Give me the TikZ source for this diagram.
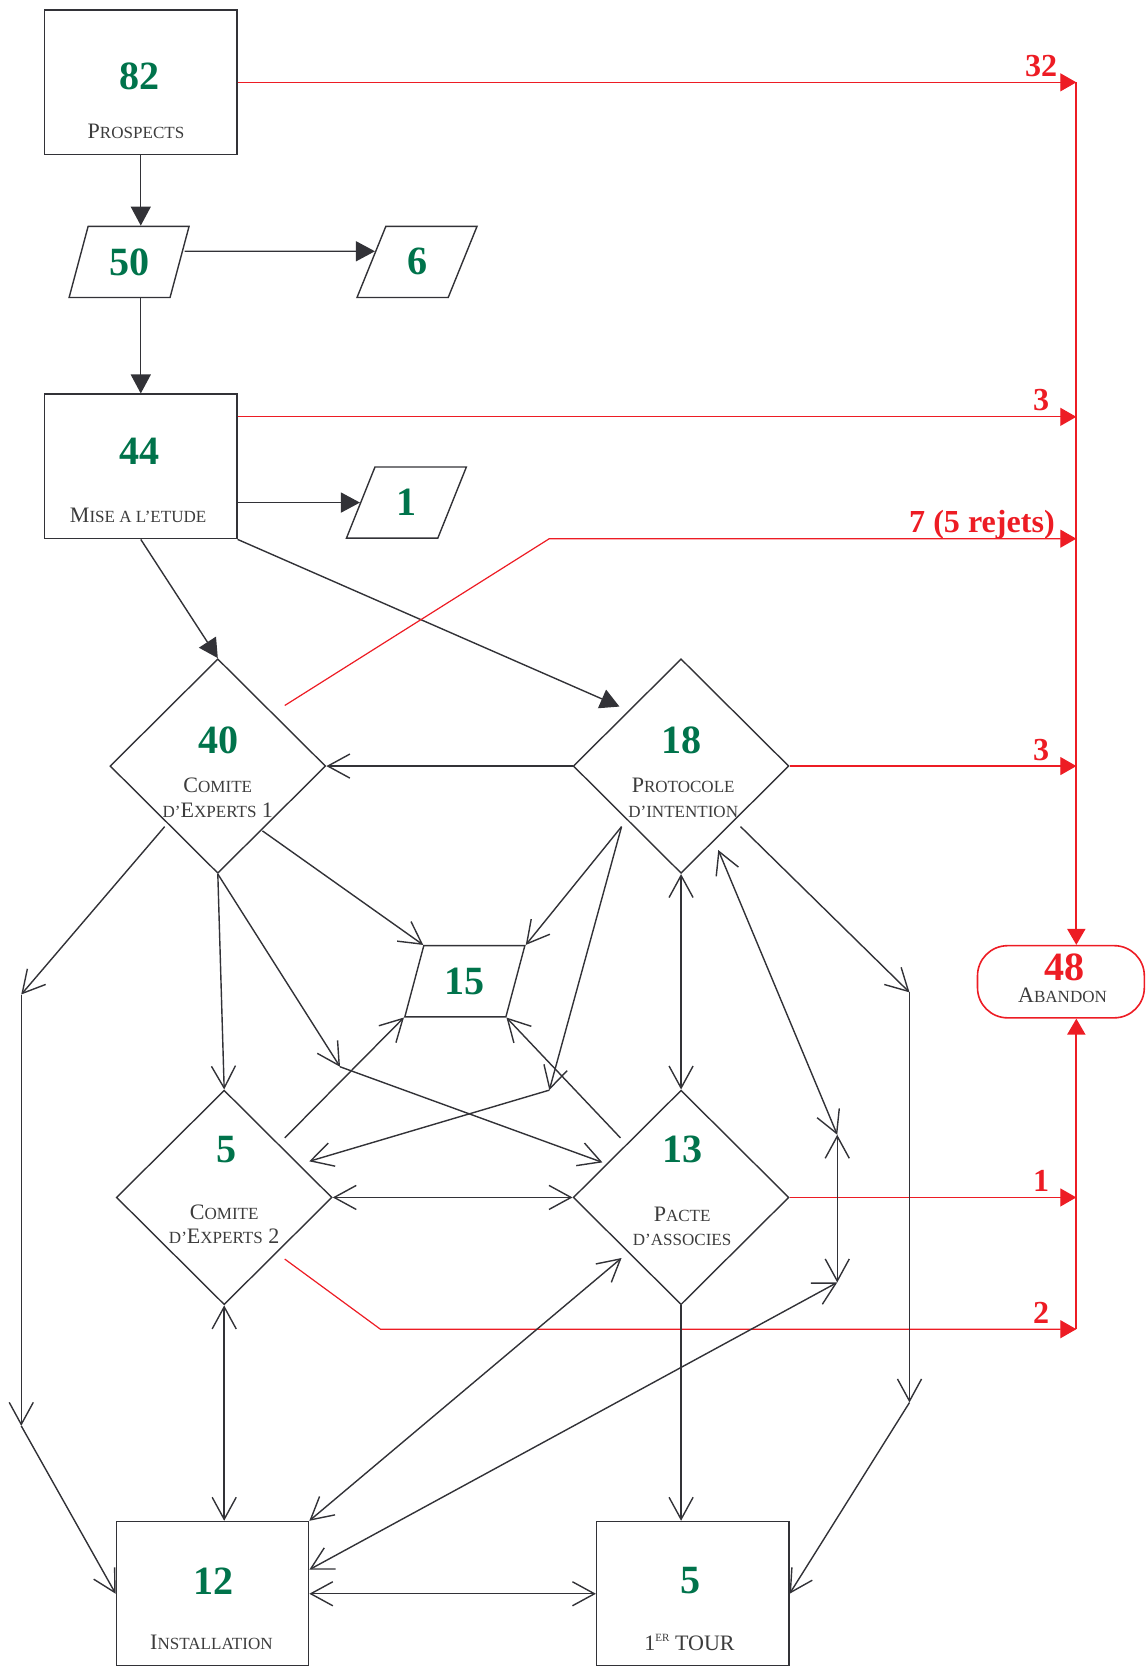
\documentclass[tikz,border=0pt]{standalone}
\usepackage{fontspec}
\setmainfont{Liberation Serif}
\usetikzlibrary{arrows.meta,shapes.geometric,calc}
\definecolor{vert}{RGB}{0,115,75}
\definecolor{rouge}{RGB}{237,28,36}
\definecolor{trait}{RGB}{50,50,55}
\definecolor{texte}{RGB}{60,60,60}
\newcommand\petit[1]{{\fontsize{8.5}{10}\selectfont #1}}
\begin{document}
\begin{tikzpicture}[x=0.53pt,y=-0.53pt,
        boite/.style={draw=trait,line width=0.7pt,minimum width=95.9pt,minimum height=72.1pt,inner sep=0pt},
        losange/.style={draw=trait,line width=0.7pt,diamond,minimum width=107.6pt,minimum height=107pt,inner sep=0pt},
        para/.style={draw=trait,line width=0.7pt,trapezium,trapezium left angle=71,trapezium right angle=109,
            trapezium stretches=true,minimum width=59.9pt,minimum height=35.5pt,inner sep=0pt,
            text=vert,font=\fontsize{20}{20}\selectfont\bfseries},
        nombre/.style={text=vert,font=\fontsize{20}{20}\selectfont\bfseries,inner sep=0pt},
        libelle/.style={text=texte,font=\fontsize{11}{12.2}\selectfont,align=center,inner sep=0pt},
        etiq/.style={text=rouge,font=\fontsize{16}{16}\selectfont\bfseries,anchor=base,inner sep=0pt,
            pos=1,xshift=-17.5pt,yshift=3pt},
        plein/.style={draw=trait,line width=0.7pt,-{Triangle[length=9.5pt,width=10pt]}},
        ouv/.style={draw=trait,line width=0.7pt,-{Straight Barb[length=11pt,width=12pt]}},
        ouvv/.style={draw=trait,line width=0.7pt,{Straight Barb[length=11pt,width=12pt]}-{Straight Barb[length=11pt,width=12pt]}},
        perte/.style={draw=rouge,line width=0.6pt,-{Triangle[length=8pt,width=9pt]}}]
        \useasboundingbox (0,0) rectangle (1078,1568);
        % boites et losanges
        \node[boite] (b82) at (132.5,77.5) {};
        \node[nombre] (n82) at (131,72) {82};
        \node[libelle] (l82) at (128,124) {P\petit{ROSPECTS}};
        \node[para] (p50) at (121.5,246.5) {50};
        \node[para] (p6) at (392.5,246.5) {6};
        \node[boite] (b44) at (132.5,439) {};
        \node[nombre] (n44) at (131,425) {44};
        \node[libelle] (l44) at (130,485) {M\petit{ISE A L'ETUDE}};
        \node[para] (p1) at (382.5,473) {1};
        \node[losange] (d40) at (205,721) {};
        \node[nombre] (n40) at (206,697) {40};
        \node[libelle] (l40) at (205,751) {C\petit{OMITE}\\\petit{D'}E\petit{XPERTS} 1};
        \node[losange] (d18) at (641,721) {};
        \node[nombre] (n18) at (641,697) {18};
        \node[libelle] (l18) at (643,751) {P\petit{ROTOCOLE}\\\petit{D'INTENTION}};
        \node[para] (p15) at (437.5,923.5) {15};
        \node[losange] (d5) at (211,1127) {};
        \node[nombre] (n5) at (213,1082) {5};
        \node[libelle] (l5) at (211,1152) {C\petit{OMITE}\\\petit{D'}E\petit{XPERTS} 2};
        \node[losange] (d13) at (641,1127) {};
        \node[nombre] (n13) at (642,1082) {13};
        \node[libelle] (l13) at (642,1154) {P\petit{ACTE}\\\petit{D'ASSOCIES}};
        \node[boite] (b12) at (200,1500) {};
        \node[nombre] (n12) at (201,1488) {12};
        \node[libelle] (l12) at (199,1546) {I\petit{NSTALLATION}};
        \node[boite] (b1t) at (652,1500) {};
        \node[nombre] (n1t) at (650,1488) {5};
        \node[libelle] (l1t) at (649,1546) {1\raisebox{0.9ex}{\fontsize{5.5}{6}\selectfont ER} TOUR};
        \node[draw=rouge,line width=0.8pt,rounded corners=15pt,minimum width=83.2pt,minimum height=36pt] (ab) at (998.5,924) {};
        \node[nombre,text=rouge] (n48) at (1002,910) {48};
        \node[libelle] (l48) at (1000,937) {A\petit{BANDON}};
        \coordinate (col) at (1013,0);
        % fleches pleines
        \draw[plein] (b82.south)--(b82.south |- p50.north);
        \draw[plein] ($(p50.east)+(4,-10)$)--($(p6.west)+(4,-10)$);
        \draw[plein] (p50.south -| b44.north)--(b44.north);
        \draw[plein] (b44.east |- p1.west)--(p1.west);
        \draw[plein] (b44.south)--(d40.north);
        \draw[plein] (b44.south east)--($(d18)+(-58,-56)$);
        % abandons
        \coordinate (r44) at ($(b44.north east)+(0,22)$);
        \coordinate (k7) at (517,507);
        \coordinate (k2) at (358,1251);
        \draw[perte] (b82.east)--(b82.east -| col) node[etiq] (e32) {32};
        \draw[perte] (r44)--(r44 -| col) node[etiq] (e3a) {3};
        \draw[perte] ($(d40)+(63,-57)$)--(k7)--(k7 -| col) node[etiq,anchor=base east,xshift=7pt] (e7) {7 (5 rejets)};
        \draw[perte] (d18.east)--(d18.east -| col) node[etiq] (e3b) {3};
        \draw[perte] (d13.east)--(d13.east -| col) node[etiq] (e1) {1};
        \draw[perte] ($(d5)+(57,58)$)--(k2)--(k2 -| col) node[etiq] (e2) {2};
        \draw[perte,line width=1pt] (b82.east -| col)--(col |- ab.north);
        \draw[perte,line width=1pt] (k2 -| col)--(col |- ab.south);
        % fleches ouvertes
        \coordinate (g1) at (20,936);
        \coordinate (g2) at (20,1342);
        \coordinate (k3) at (320,1004);
        \coordinate (k4) at (517,1026);
        \coordinate (k5) at (788,1068);
        \coordinate (k6) at (788,1207);
        \coordinate (k8) at (856,934);
        \coordinate (k9) at (856,1320);
        \draw[ouv] (d18.west)--(d40.east);
        \draw[ouv] ($(d40)+(-50,57)$)--(g1);
        \draw[ouv] (g1)--(g2);
        \draw[ouv] (g2)--(b12.west);
        \draw[ouv] (d40.south)--(d5.north);
        \draw[ouv] (d40.south)--(k3);
        \draw[ouv] (k3)--($(d13)+(-74,-33)$);
        \draw[ouv] ($(d40)+(42,61)$)--(p15.top left corner);
        \draw[ouv] ($(d18)+(-56,57)$)--(p15.top right corner);
        \draw[ouv] ($(d18)+(-56,57)$)--(k4);
        \draw[ouv] (k4)--($(d5)+(80,-34)$);
        \draw[ouv] ($(d5)+(57,-56)$)--(p15.bottom left corner);
        \draw[ouv] ($(d13)+(-57,-56)$)--(p15.bottom right corner);
        \draw[ouvv] (d5.east)--(d13.west);
        \draw[ouvv] (d18.south)--(d13.north);
        \draw[ouvv] ($(d18)+(35,79)$)--(k5);
        \draw[ouvv] (k5)--(k6);
        \draw[ouvv] (k6)--($(b12.north east)+(0,46)$);
        \draw[ouvv] (b12.north east)--($(d13)+(-56,57)$);
        \draw[ouvv] (d5.south)--(d5.south |- b12.north);
        \draw[ouv] (d13.south)--(d13.south |- b1t.north);
        \draw[ouvv] (b12.east)--(b1t.west);
        \draw[ouv] ($(d18)+(56,57)$)--(k8);
        \draw[ouv] (k8)--(k9);
        \draw[ouv] (k9)--(b1t.east);
\end{tikzpicture}
\end{document}
